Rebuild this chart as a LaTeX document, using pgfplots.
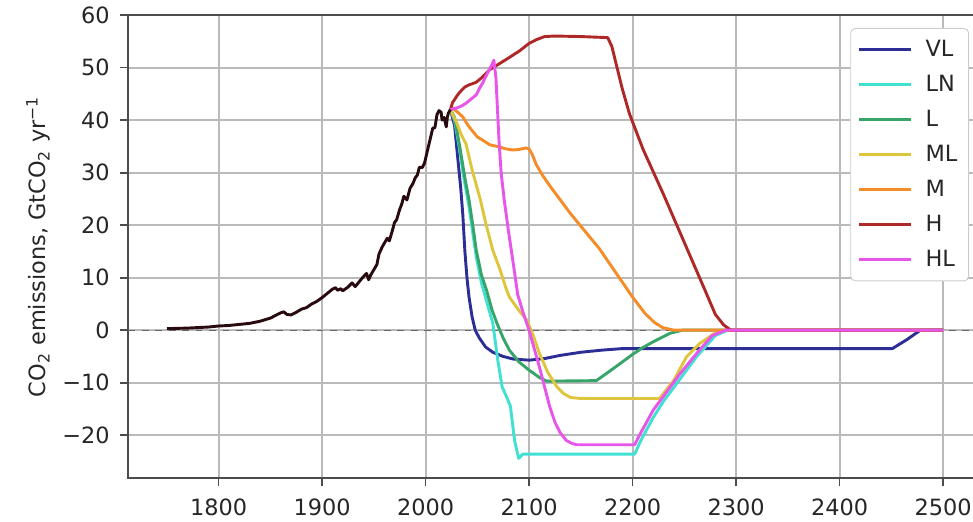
\documentclass[border=0pt]{standalone}
\usepackage{fontspec}
\setmainfont{DejaVu Sans}
\usepackage{pgfplots}
\pgfplotsset{compat=1.18}
\definecolor{cVL}{RGB}{45,45,150}
\definecolor{cLN}{RGB}{64,224,210}
\definecolor{cL}{RGB}{55,165,105}
\definecolor{cML}{RGB}{222,198,60}
\definecolor{cM}{RGB}{245,140,40}
\definecolor{cH}{RGB}{175,40,40}
\definecolor{cHL}{RGB}{232,85,235}
\definecolor{cHist}{RGB}{40,10,15}
\begin{document}
\begin{tikzpicture}
\begin{axis}[
  name=ax,
  at={(0,0)}, anchor=south west,
  width=377.5pt, height=206.7pt, scale only axis,
  xmin=1712.5, xmax=2530, ymin=-28.2, ymax=60,
  xtick={1800,1900,2000,2100,2200,2300,2400,2500},
  xticklabels={1800,1900,2000,2100,2200,2300,2400,2500},
  ytick={-20,-10,0,10,20,30,40,50,60},
  yticklabels={−20,−10,0,10,20,30,40,50,60},
  /pgf/number format/assume math mode=true,
  tick align=outside, major tick length=3.6pt,
  tick pos=left,
  tick style={black!70, line width=0.8pt},
  axis line style={black!70, line width=0.9pt},
  grid=major, major grid style={black!27, line width=0.9pt},
  xticklabel style={font=\fontsize{10}{12}\selectfont, text=black!85, yshift=-2pt},
  yticklabel style={font=\fontsize{10}{12}\selectfont, text=black!85, xshift=-1pt},
  ylabel={CO\textsubscript{2} emissions, GtCO\textsubscript{2} yr\textsuperscript{−1}},
  every axis y label/.style={at={(rel axis cs:0,0.5)}, xshift=-40pt, rotate=90, anchor=center, font=\fontsize{10}{12}\selectfont, text=black!85},
  legend style={at={(0.994,0.972)}, anchor=north east, draw=black!20, fill=white, rounded corners=2pt,
    font=\fontsize{10}{12}\selectfont, text=black!85, inner xsep=3pt, inner ysep=3pt, row sep=2.6pt, column sep=4pt,
    nodes={inner sep=2pt, text height=7.5pt, text depth=1.5pt, anchor=west}},
  legend cell align=left,
  legend image code/.code={\draw[#1, line width=1.4pt] (0pt,0pt) -- (23pt,0pt);},
  every axis plot/.append style={line width=1.3pt, line join=round},
]
\addplot[forget plot, black!60, dashed, line width=0.55pt] coordinates {(1700,0) (2540,0)};

\addplot[cVL] coordinates {
(2024,42) (2028,39) (2031,33) (2034,27) (2036,22) (2038,15) (2040,10) (2042,6.3) (2045,2.5) (2048,0)
(2052,-1.5) (2058,-3.2) (2065,-4.2) (2075,-5) (2085,-5.5) (2100,-5.7) (2115,-5.4) (2130,-4.8)
(2150,-4.2) (2170,-3.8) (2190,-3.5) (2200,-3.5) (2451,-3.5) (2465,-1.8) (2478,0) (2500,0)};
\addlegendentry{VL}

\addplot[cLN] coordinates {
(2024,42) (2028,40) (2033,34.3) (2037,29) (2042,23.5) (2046,18) (2049,14) (2054,9) (2059,5.5)
(2065,1.3) (2070,-6) (2074,-10.8) (2079,-13) (2082,-14.5) (2086,-21) (2090,-24.4) (2094,-23.6)
(2202,-23.6) (2208,-21) (2220,-16.6) (2230,-13.5) (2262,-5) (2280,-1) (2292,0) (2500,0)};
\addlegendentry{LN}

\addplot[cL] coordinates {
(2024,42) (2028,40.5) (2033,35) (2038,29) (2042,24.8) (2046,19.5) (2049,15.2) (2054,10.5) (2059,7.6)
(2064,4) (2069,1.3) (2075,-1.5) (2081,-3.8) (2090,-6) (2100,-7.6) (2110,-9) (2117,-9.7) (2165,-9.6)
(2175,-8.2) (2187,-6.5) (2200,-4.6) (2210,-3.3) (2220,-2.2) (2236,-0.6) (2248,0) (2500,0)};
\addlegendentry{L}

\addplot[cML] coordinates {
(2024,42) (2030,39.5) (2035,37) (2039,35.5) (2045,30.5) (2053,24.8) (2058,20.5) (2065,15.2) (2072,11.5)
(2078,7.8) (2081,6.3) (2090,3.8) (2098,1.9) (2104,-1) (2110,-4.4) (2118,-8) (2127,-10.8) (2133,-12)
(2140,-12.8) (2150,-13) (2226,-13) (2240,-9.5) (2252,-5.1) (2265,-2.5) (2280,-0.5) (2290,0) (2500,0)};
\addlegendentry{ML}

\addplot[cM] coordinates {
(2024,42) (2026,42.3) (2031,41.5) (2036,40.6) (2041,39) (2045,38) (2050,36.8) (2055,36.2) (2062,35.3)
(2069,35) (2078,34.5) (2084,34.3) (2090,34.4) (2097,34.7) (2100,34.5) (2103,33.5) (2107,31.5)
(2113,29.5) (2120,27.5) (2140,22.2) (2168,15.5) (2200,6.3) (2212,3.2) (2221,1.5) (2229,0.5) (2240,0) (2500,0)};
\addlegendentry{M}

\addplot[cH] coordinates {
(2024,42) (2026,43.3) (2030,44.5) (2033,45.3) (2038,46.3) (2042,46.7) (2049,47.2) (2055,48.2)
(2062,49.6) (2071,50.7) (2080,51.8) (2091,53.2) (2100,54.6) (2107,55.3) (2115,55.9) (2125,56)
(2150,55.9) (2176,55.7) (2180,54) (2185,50) (2190,46) (2197,41.2) (2210,34.5) (2230,25.8)
(2250,16.7) (2270,7.6) (2280,3) (2288,1) (2295,0) (2500,0)};
\addlegendentry{H}

\addplot[cHL] coordinates {
(2024,42) (2030,42.3) (2035,42.7) (2039,43.2) (2044,44) (2049,44.8) (2052,46) (2055,47) (2060,49)
(2064,50.5) (2066,51.4) (2068,48) (2071,36) (2073,30) (2076,24.8) (2080,19) (2083,15) (2086,11)
(2089,6.8) (2094,3.5) (2100,0) (2105,-3.5) (2110,-7) (2115,-10.8) (2120,-14.6) (2125,-17.5)
(2130,-19.5) (2136,-21) (2142,-21.6) (2146,-21.8) (2202,-21.8) (2208,-19.5) (2220,-15.2)
(2229,-12.8) (2245,-8.5) (2262,-4.4) (2277,-1) (2290,0) (2500,0)};
\addlegendentry{HL}

\addplot[cHist, forget plot] coordinates {
(1750,0.3) (1760,0.35) (1770,0.4) (1780,0.5) (1790,0.6) (1800,0.8) (1810,0.9) (1820,1.1) (1830,1.3)
(1840,1.7) (1850,2.3) (1855,2.8) (1860,3.3) (1863,3.5) (1866,3.0) (1870,2.9) (1875,3.4) (1880,4.0)
(1885,4.3) (1890,5.0) (1895,5.5) (1900,6.2) (1905,7.0) (1910,7.8) (1913,8.1) (1915,7.6) (1918,7.9)
(1920,7.5) (1925,8.2) (1929,9.0) (1932,8.3) (1935,9.0) (1937,9.5) (1940,10.2) (1943,10.8) (1945,9.6)
(1947,10.5) (1950,11.5) (1953,12.5) (1955,14.5) (1958,15.8) (1960,16.5) (1963,17.5) (1965,17)
(1968,19) (1970,20.5) (1972,21) (1975,23) (1977,24) (1979,25.5) (1982,24.8) (1985,27) (1988,28)
(1990,29) (1992,29.5) (1994,31) (1997,31) (1999,31.8) (2001,33.5) (2004,36) (2007,38.5) (2009,38.5)
(2011,41) (2013,41.8) (2015,41.5) (2016,40) (2018,40.5) (2020,38.7) (2021,40.5) (2022,41.3) (2024,42)};
\end{axis}
\pgfresetboundingbox
\path ([xshift=-57.1pt,yshift=-19.2pt]ax.south west) rectangle ([xshift=-0.5pt,yshift=6.7pt]ax.north east);
\end{tikzpicture}
\end{document}
